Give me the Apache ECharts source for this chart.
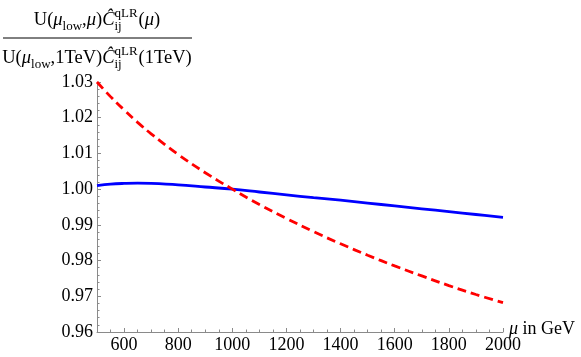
<!DOCTYPE html>
<html>
<head>
<meta charset="utf-8">
<script src="https://cdn.jsdelivr.net/npm/echarts@6/dist/echarts.min.js"></script>
<style>
  html, body { margin: 0; padding: 0; background: #fff; }
  #chart { width: 581px; height: 357px; }
</style>
</head>
<body>
<div id="chart"></div>
<script>
// data
const muValues = [500, 550, 600, 650, 700, 800, 900, 1000, 1100, 1200, 1300, 1400, 1500, 1600, 1700, 1800, 1900, 2000];
const blueRatio = [1.0010, 1.0014, 1.0016, 1.0017, 1.0016, 1.0012, 1.0006, 1.0000, 0.9992, 0.9984, 0.9976, 0.9969, 0.9961, 0.9953, 0.9945, 0.9937, 0.9929, 0.9921];
const redRatio = [1.0300, 1.0259, 1.0222, 1.0187, 1.0155, 1.0097, 1.0046, 1.0000, 0.9957, 0.9918, 0.9881, 0.9847, 0.9815, 0.9785, 0.9757, 0.9730, 0.9705, 0.9682];
const xTickLabels = [600, 800, 1000, 1200, 1400, 1600, 1800, 2000];

const serif = '"Liberation Serif", "DejaVu Serif", serif';
const axisGray = '#8a8a8a';

const toPairs = (ys) => muValues.map((x, i) => [x, ys[i]]);

// measure text so the fraction pieces can be placed one after the other
const ctx = document.createElement('canvas').getContext('2d');
const measure = (txt, size, italic) => {
  ctx.font = `${italic ? 'italic ' : ''}${size}px ${serif}`;
  return ctx.measureText(txt).width;
};

// pieces: [text, kind]  kind: n = normal, i = italic, sub, supsub = [sup, sub]
const buildLine = (pieces, centerX, baseY) => {
  const big = 18.5, small = 13;
  const widths = pieces.map(p => {
    if (p[1] === 'supsub') return Math.max(measure(p[0][0], small), measure(p[0][1], small)) + 1;
    return measure(p[0], p[1] === 'sub' ? small : big, p[1] === 'i');
  });
  const total = widths.reduce((a, b) => a + b, 0);
  let x = centerX - total / 2;
  const out = [];
  // y is the text bottom; descent of the serif font is about 0.22em
  const put = (txt, size, dy, italic) => out.push({
    type: 'text', x: x, y: baseY + dy + size * 0.22,
    style: { text: txt, fontSize: size, fontFamily: serif, fill: '#000', fontStyle: italic ? 'italic' : 'normal', verticalAlign: 'bottom' }
  });
  pieces.forEach((p, k) => {
    if (p[1] === 'supsub') {
      put(p[0][0], small, -9, false);
      put(p[0][1], small, 4, false);
    } else if (p[1] === 'sub') {
      put(p[0], small, 4, false);
    } else {
      put(p[0], big, 0, p[1] === 'i');
    }
    x += widths[k];
  });
  return out;
};

const numerator = buildLine([
  ['U(', 'n'], ['μ', 'i'], ['low', 'sub'], [',', 'n'], ['μ', 'i'], [')', 'n'],
  ['Ĉ', 'i'], [['qLR', 'ij'], 'supsub'], ['(', 'n'], ['μ', 'i'], [')', 'n']
], 97, 26);
const denominator = buildLine([
  ['U(', 'n'], ['μ', 'i'], ['low', 'sub'], [',1TeV)', 'n'],
  ['Ĉ', 'i'], [['qLR', 'ij'], 'supsub'], ['(1TeV)', 'n']
], 97, 64);

const chart = echarts.init(document.getElementById('chart'), null, { renderer: 'canvas' });

const option = {
  animation: false,
  backgroundColor: '#fff',
  grid: { left: 97, right: 78, top: 82, bottom: 25, containLabel: false, outerBoundsMode: 'none' },
  graphic: [
    ...numerator,
    { type: 'line', shape: { x1: 3, y1: 38, x2: 192, y2: 38 }, style: { stroke: '#000', lineWidth: 1 } },
    ...denominator
  ],
  xAxis: [
    {
      type: 'value', min: 500, max: 2000, interval: 50,
      axisLine: { show: true, lineStyle: { color: axisGray, width: 1 } },
      axisTick: { show: true, inside: true, length: 4, customValues: xTickLabels, lineStyle: { color: axisGray } },
      axisLabel: {
        customValues: xTickLabels, color: '#000', fontFamily: serif, fontSize: 18, margin: 4,
        hideOverlap: false, formatter: (v) => String(v)
      },
      splitLine: { show: false },
      name: '{i|μ} in GeV', nameLocation: 'end', nameGap: 6, nameMoveOverlap: false,
      nameTextStyle: {
        color: '#000', fontFamily: serif, fontSize: 18, verticalAlign: 'middle', padding: [0, 0, 6, 0],
        rich: { i: { fontStyle: 'italic', fontFamily: serif, fontSize: 18, color: '#000' } }
      }
    },
    {
      type: 'value', min: 500, max: 2000, interval: 50, position: 'bottom',
      axisLine: { show: false },
      axisTick: { show: true, inside: true, length: 2.5, lineStyle: { color: axisGray } },
      axisLabel: { show: false },
      splitLine: { show: false }
    }
  ],
  yAxis: {
    type: 'value', min: 0.96, max: 1.03, interval: 0.01,
    axisLine: { show: true, lineStyle: { color: axisGray, width: 1 } },
    axisTick: { show: true, inside: true, length: 4, lineStyle: { color: axisGray } },
    minorTick: { show: true, splitNumber: 5, length: 2.5, lineStyle: { color: axisGray } },
    axisLabel: {
      color: '#000', fontFamily: serif, fontSize: 18, margin: 4,
      formatter: (v) => v.toFixed(2)
    },
    splitLine: { show: false }
  },
  series: [
    {
      type: 'line', data: toPairs(blueRatio), smooth: 0.4, showSymbol: false, symbol: 'none',
      lineStyle: { color: '#0000ff', width: 2.8 }, clip: true
    },
    {
      type: 'line', data: toPairs(redRatio), smooth: 0.4, showSymbol: false, symbol: 'none',
      lineStyle: { color: '#ff0000', width: 2.8, type: [9, 5] }, clip: true
    }
  ]
};

chart.setOption(option);
</script>
</body>
</html>
